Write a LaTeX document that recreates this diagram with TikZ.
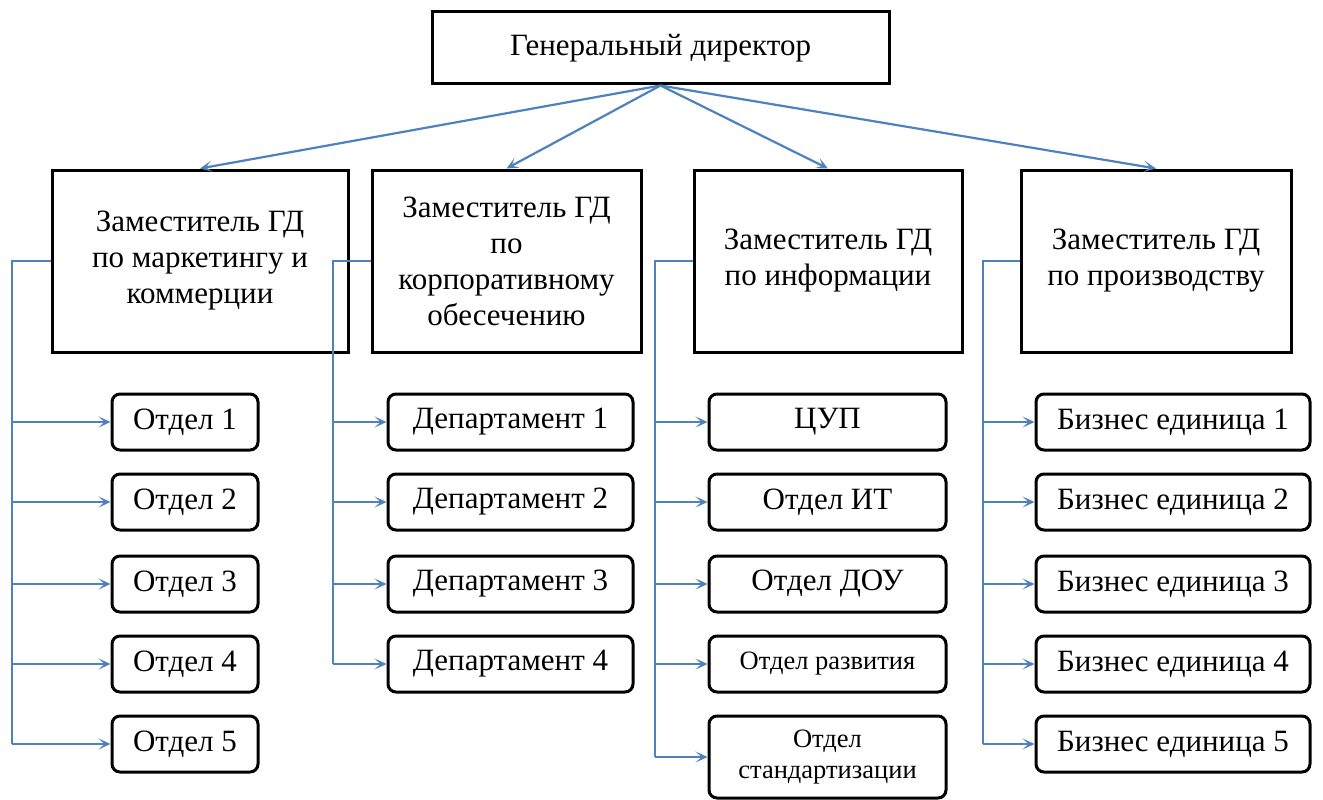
\documentclass[tikz,border=0pt]{standalone}
\usepackage{fontspec}
\setmainfont{Liberation Serif}
\usetikzlibrary{arrows.meta,calc}
\definecolor{lineblue}{RGB}{79,129,189}
\begin{document}
\begin{tikzpicture}[x=1pt,y=-1pt,
  bigbox/.style={draw=black,line width=3pt,fill=white,align=center,inner sep=2pt,
    font=\fontsize{31}{36}\selectfont},
  smallbox/.style={draw=black,line width=3pt,rounded corners=8pt,fill=white,align=center,
    inner sep=2pt,minimum height=56pt,font=\fontsize{31}{36}\selectfont},
  link/.style={draw=lineblue,line width=2.2pt},
  arr/.style={link,-{Stealth[length=12pt,width=11pt,inset=6pt]}}]
\useasboundingbox (0,0) rectangle (1323,800);

\node[bigbox,minimum width=457pt,minimum height=72pt] (gd) at (660.5,48) {Генеральный директор};

\node[bigbox,minimum width=296pt,minimum height=182pt] (a) at (200,261) {Заместитель ГД\\по маркетингу и\\коммерции};
\node[bigbox,minimum width=269pt,minimum height=182pt] (b) at (506.5,261) {Заместитель ГД\\по\\корпоративному\\обесечению};
\node[bigbox,minimum width=268pt,minimum height=182pt] (c) at (828,261) {Заместитель ГД\\по информации};
\node[bigbox,minimum width=270pt,minimum height=182pt] (d) at (1156,261) {Заместитель ГД\\по производству};

\foreach \t in {a,b,c,d} \draw[arr] (gd.south) -- (\t.north);

% column A
\foreach \i/\y in {1/422,2/502,3/584,4/664,5/744}
  \node[smallbox,minimum width=146pt] (a\i) at (185,\y) {Отдел \i};
% column B
\foreach \i/\y in {1/422,2/502,3/584,4/664}
  \node[smallbox,minimum width=245pt] (b\i) at (510.5,\y) {Департамент \i};
% column C
\node[smallbox,minimum width=237pt] (c1) at (827.5,422) {ЦУП};
\node[smallbox,minimum width=237pt] (c2) at (827.5,502) {Отдел ИТ};
\node[smallbox,minimum width=237pt] (c3) at (827.5,584) {Отдел ДОУ};
\node[smallbox,minimum width=237pt,font=\fontsize{26.5}{31}\selectfont] (c4) at (827.5,664) {Отдел развития};
\node[smallbox,minimum width=237pt,minimum height=82pt,font=\fontsize{26.5}{31}\selectfont] (c5) at (827.5,757) {Отдел\\стандартизации};
% column D
\foreach \i/\y in {1/422,2/502,3/584,4/664,5/744}
  \node[smallbox,minimum width=274pt] (d\i) at (1173,\y) {Бизнес единица \i};

% brackets
\coordinate (ta) at (12,261);
\coordinate (tb) at (333,261);
\coordinate (tc) at (655,261);
\coordinate (td) at (983,261);
\draw[link] (a.west) -- (ta) -- (ta |- a5.west);
\draw[link] (b.west) -- (tb) -- (tb |- b4.west);
\draw[link] (c.west) -- (tc) -- (tc |- c5.west);
\draw[link] (d.west) -- (td) -- (td |- d5.west);
\foreach \i in {1,...,5} \draw[arr] (ta |- a\i.west) -- (a\i.west);
\foreach \i in {1,...,4} \draw[arr] (tb |- b\i.west) -- (b\i.west);
\foreach \i in {1,...,5} \draw[arr] (tc |- c\i.west) -- (c\i.west);
\foreach \i in {1,...,5} \draw[arr] (td |- d\i.west) -- (d\i.west);
\end{tikzpicture}
\end{document}
